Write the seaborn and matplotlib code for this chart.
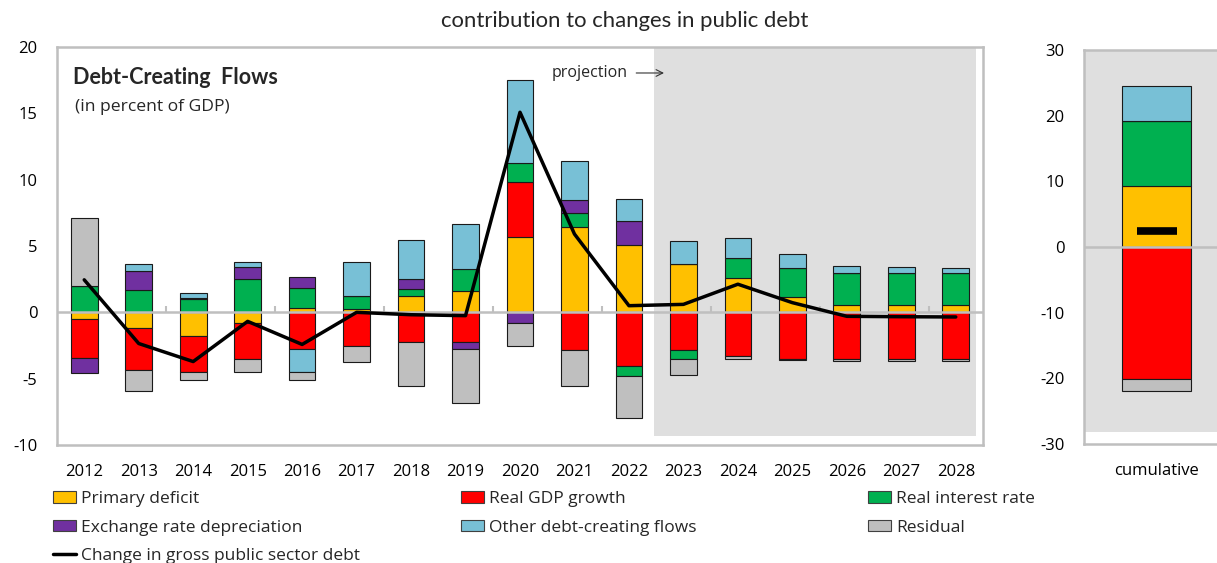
import numpy as np
import pandas as pd
import matplotlib
matplotlib.use("Agg")
import matplotlib.pyplot as plt
from matplotlib.patches import Patch
from matplotlib.lines import Line2D
import seaborn as sns

# ---------------- data ----------------
years = ["2012", "2013", "2014", "2015", "2016", "2017", "2018", "2019", "2020",
         "2021", "2022", "2023", "2024", "2025", "2026", "2027", "2028"]
primary_deficit = [-0.50, -1.21, -1.79, -0.83, 0.35, 0.28, 1.26, 1.64, 5.66,
                   6.46, 5.10, 3.68, 2.60, 1.19, 0.58, 0.58, 0.58]
real_gdp_growth = [-2.96, -3.11, -2.73, -2.68, -2.80, -2.50, -2.27, -2.25, 4.14,
                   -2.86, -4.02, -2.86, -3.26, -3.48, -3.50, -3.50, -3.50]
real_interest = [1.95, 1.72, 1.00, 2.55, 1.52, 0.98, 0.53, 1.59, 1.44,
                 1.01, -0.80, -0.62, 1.47, 2.12, 2.42, 2.35, 2.35]
exchange_rate = [-1.14, 1.36, 0.08, 0.83, 0.76, 0.00, 0.71, -0.48, -0.78,
                 0.99, 1.82, 0.00, 0.00, 0.00, 0.00, 0.00, 0.00]
other_flows = [0.00, 0.53, 0.36, 0.38, -1.72, 2.50, 2.93, 3.41, 6.28,
               2.93, 1.61, 1.67, 1.51, 1.06, 0.46, 0.45, 0.38]
residual = [5.15, -1.64, -0.56, -0.96, -0.56, -1.26, -3.31, -4.14, -1.72,
            -2.67, -3.11, -1.22, -0.22, -0.15, -0.15, -0.15, -0.15]
debt_change = [2.45, -2.35, -3.71, -0.68, -2.42, 0.00, -0.18, -0.25, 15.08,
               5.90, 0.50, 0.60, 2.12, 0.73, -0.30, -0.33, -0.35]

cum_label = ["cumulative"]
cum_primary = [9.24]
cum_gdp = [-20.10]
cum_interest = [9.95]
cum_exchange = [0.0]
cum_other = [5.40]
cum_residual = [-1.88]
cum_change = [2.50]

series_names = ["Primary deficit", "Real GDP growth", "Real interest rate",
                "Exchange rate depreciation", "Other debt-creating flows", "Residual"]
line_name = "Change in gross public sector debt"
colors = ["#FFC000", "#FF0000", "#00B050", "#7030A0", "#78C0D6", "#BFBFBF"]

# ---------------- style ----------------
sns.set_theme(style="white")
plt.rcParams["font.family"] = ["Open Sans", "DejaVu Sans"]
plt.rcParams["axes.unicode_minus"] = False
GRAY = "#BFBFBF"
SHADE = "#DFDFDF"

W, H = 1217, 563
fig = plt.figure(figsize=(W / 100, H / 100), dpi=100)


def px_rect(x0, y0, x1, y1):
    return [x0 / W, 1 - y1 / H, (x1 - x0) / W, (y1 - y0) / H]


ax = fig.add_axes(px_rect(57, 47, 983, 445))
ax2 = fig.add_axes(px_rect(1084, 50, 1229, 444))


def stacked(axis, xs, layers, width):
    pos = np.zeros(len(xs))
    neg = np.zeros(len(xs))
    for vals, col in zip(layers, colors):
        v = np.asarray(vals, dtype=float)
        bottom = np.where(v >= 0, pos, neg)
        axis.bar(xs, v, width=width, bottom=bottom, color=col,
                 edgecolor="#1a1a1a", linewidth=0.8, zorder=2)
        pos = np.where(v >= 0, pos + v, pos)
        neg = np.where(v < 0, neg + v, neg)


# ---------------- main panel ----------------
x = np.arange(len(years))
layers = [primary_deficit, real_gdp_growth, real_interest, exchange_rate,
          other_flows, residual]

ax.axvspan(10.46, 16.37, ymin=(-9.3 + 10) / 30, ymax=1.0, color=SHADE, zorder=0, lw=0)
stacked(ax, x, layers, 0.49)
ax.axhline(0, color=GRAY, lw=1.8, zorder=3)
df = pd.DataFrame({"x": x, "change": debt_change})
sns.lineplot(data=df, x="x", y="change", ax=ax, color="black", lw=2.5, zorder=5)

ax.set_xlim(-0.5, len(years) - 0.5)
ax.set_ylim(-10, 20)
ax.set_yticks(np.arange(-10, 21, 5))
ax.set_xticks(x)
ax.set_xticklabels(years)
ax.set_xlabel("")
ax.set_ylabel("")
ax.tick_params(axis="x", length=0, pad=13.5, labelsize=12, colors="black")
ax.tick_params(axis="y", direction="in", length=4, width=1.5, color=GRAY,
               pad=14, labelsize=12, labelcolor="black")
for s in ax.spines.values():
    s.set_visible(True)
    s.set_color(GRAY)
    s.set_linewidth(1.8)

sec = ax.secondary_xaxis(10 / 30)
sec.set_xticks(np.arange(1.5, len(years) - 1, 2))
sec.tick_params(direction="in", length=4, width=1.5, color=GRAY, labelbottom=False,
                labeltop=False)
for s in sec.spines.values():
    s.set_visible(False)

ax.text(0.0173, 0.924, "Debt-Creating  Flows", transform=ax.transAxes,
        fontsize=15.5, fontweight="bold", family=["Lato", "DejaVu Sans"],
        ha="left", va="center")
ax.text(0.0194, 0.849, "(in percent of GDP)", transform=ax.transAxes,
        fontsize=12.6, ha="left", va="center")
ax.text(0.5346, 0.9347, "projection", transform=ax.transAxes,
        fontsize=11.5, ha="left", va="center")
ax.annotate("", xy=(0.6585, 0.9347), xytext=(0.6225, 0.9347),
            xycoords="axes fraction",
            arrowprops=dict(arrowstyle="->", color="#333333", lw=0.8))

# ---------------- cumulative panel ----------------
ax2.axhspan(-28.1, 30, color=SHADE, zorder=0, lw=0)
cx = np.arange(len(cum_label))
stacked(ax2, cx, [cum_primary, cum_gdp, cum_interest, cum_exchange, cum_other,
                  cum_residual], 0.48)
ax2.axhline(0, color=GRAY, lw=1.8, zorder=3)
ax2.plot(cx, cum_change, marker="_", ms=29, mew=5.5, color="black", lw=0, zorder=5)
ax2.set_xlim(-0.5, 0.5)
ax2.set_ylim(-30, 30)
ax2.set_yticks(np.arange(-30, 31, 10))
ax2.set_xticks(cx)
ax2.set_xticklabels(cum_label)
ax2.tick_params(axis="x", length=0, pad=13.5, labelsize=12, colors="black")
ax2.tick_params(axis="y", direction="in", length=4, width=1.5, color=GRAY,
                pad=14, labelsize=12, labelcolor="black")
for k, s in ax2.spines.items():
    s.set_visible(k != "right")
    s.set_color(GRAY)
    s.set_linewidth(1.8)

# ---------------- title ----------------
fig.text(624.5 / W, 1 - 21 / H, "contribution to changes in public debt",
         fontsize=15.9, family=["Lato", "DejaVu Sans"], ha="center", va="center")

# ---------------- legend ----------------
patches = [Patch(facecolor=c, edgecolor="#404040", lw=0.8, label=n)
           for c, n in zip(colors, series_names)]
line_h = Line2D([0], [0], color="black", lw=2.5, label=line_name)
cols = [[patches[0], patches[3], line_h], [patches[1], patches[4]],
        [patches[2], patches[5]]]
col_x = [53, 461, 868]
for hs, cxp in zip(cols, col_x):
    fig.legend(handles=hs, loc="upper left", bbox_to_anchor=(cxp / W, 1 - 491 / H),
               frameon=False, fontsize=12.5, handlelength=1.32, handleheight=0.65,
               handletextpad=0.3, labelspacing=0.72, borderpad=0, borderaxespad=0)

fig.savefig("out.png", dpi=100)
